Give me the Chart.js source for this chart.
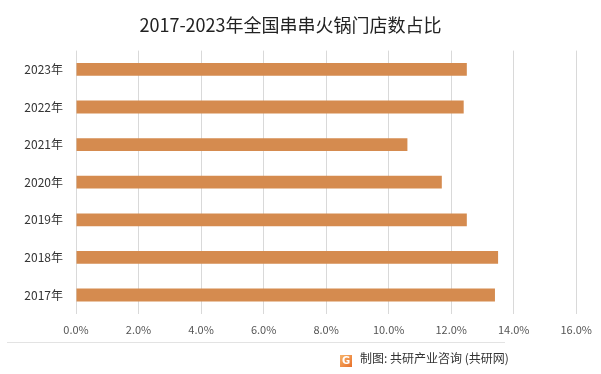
<!DOCTYPE html>
<html>
<head>
<meta charset="utf-8">
<script src="https://cdn.jsdelivr.net/npm/chart.js@4"></script>
<style>
  html, body { margin: 0; padding: 0; background: #fff; }
  #wrap { position: relative; width: 601px; height: 374px; }
  #sep { position: absolute; left: 7px; top: 342px; width: 498px; height: 1px; background: #e3e3e3; }
  #src { position: absolute; left: 340px; top: 349px; height: 18px; font: 12px "Noto Sans CJK SC", sans-serif; color: #333; white-space: nowrap; line-height: 18px; }
  #logo { display: inline-block; width: 12px; height: 12px; margin-right: 8px; vertical-align: -1px;
          background: linear-gradient(135deg, #f7b36a, #e8702a); color: #fff; font: bold 10px/12px "DejaVu Sans", sans-serif; text-align: center; }
</style>
</head>
<body>
<div id="wrap">
  <canvas id="Chart1" width="601" height="374"></canvas>
  <div id="sep"></div>
  <div id="src"><span id="logo">G</span>制图: 共研产业咨询 (共研网)</div>
</div>
<script>
var years = ['2017年', '2018年', '2019年', '2020年', '2021年', '2022年', '2023年'];
var share = [13.4, 13.5, 12.5, 11.7, 10.6, 12.4, 12.5];   // 门店数占比, %
var xTicks = [0, 2, 4, 6, 8, 10, 12, 14, 16];

var cjk = '"Noto Sans CJK SC", sans-serif';

var ctx1 = document.getElementById('Chart1').getContext('2d');
var chart1 = new Chart(ctx1, {
    type: 'bar',
    data: {
        labels: years,
        datasets: [{
            label: '门店数占比',
            data: share,
            backgroundColor: '#d58b4f',
            categoryPercentage: 1,
            barPercentage: 0.34
        }]
    },
    options: {
        indexAxis: 'y',
        responsive: false,
        animation: false,
        layout: { padding: { left: 0, right: 20, top: 0, bottom: 29 } },
        plugins: {
            legend: { display: false },
            tooltip: { enabled: false },
            title: {
                display: true,
                text: '2017-2023年全国串串火锅门店数占比',
                color: '#222',
                font: { family: cjk, size: 18, weight: 'normal' },
                padding: { top: 14, bottom: 15 }
            }
        },
        scales: {
            x: {
                min: xTicks[0],
                max: xTicks[xTicks.length - 1],
                afterBuildTicks: function (scale) {
                    scale.ticks = xTicks.map(function (v) { return { value: v }; });
                },
                grid: { color: '#d9d9d9', drawTicks: false },
                border: { display: false },
                ticks: {
                    color: '#555',
                    padding: 9,
                    font: { family: cjk, size: 11 },
                    callback: function (v) { return v.toFixed(1) + '%'; }
                }
            },
            y: {
                reverse: true,
                afterFit: function (scale) { scale.width = 76; },
                grid: { display: false },
                border: { display: false },
                ticks: {
                    color: '#333',
                    padding: 5,
                    font: { family: cjk, size: 12 }
                }
            }
        }
    }
});
</script>
</body>
</html>
